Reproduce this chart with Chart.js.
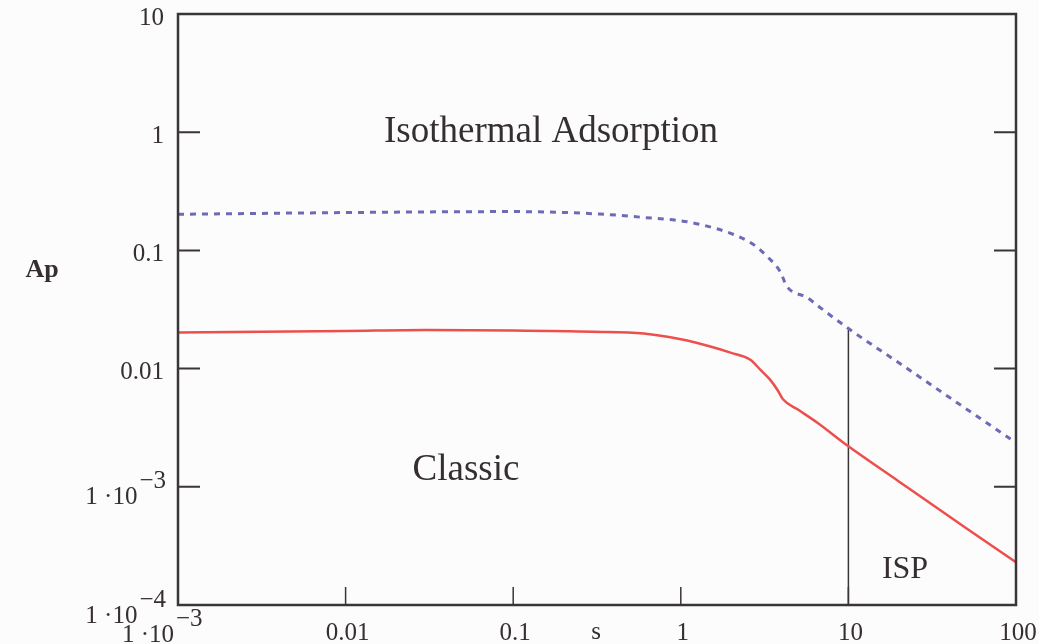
<!DOCTYPE html>
<html>
<head>
<meta charset="utf-8">
<script src="https://cdn.jsdelivr.net/npm/chart.js@4.4.1/dist/chart.umd.min.js"></script>
<style>
    html, body { margin: 0; padding: 0; background: #fcfcfc; }
    #wrap { width: 1039px; height: 644px; position: relative; }
</style>
</head>
<body>
<div id="wrap"><canvas id="chart"></canvas></div>
<script>
// Isothermal adsorption curve (dotted)
const sIsothermal = [0.001, 0.01, 0.1, 0.33, 0.6, 1, 1.3, 2.05, 2.7, 3.27, 3.91, 4.3, 5.66, 6.77, 10.2, 20, 50, 100];
const apIsothermal = [0.202, 0.209, 0.213, 0.203, 0.19, 0.178, 0.166, 0.137, 0.1125, 0.089, 0.0664, 0.0495, 0.040, 0.0329, 0.0214, 0.0112, 0.0046, 0.00236];

// Classic curve (solid)
const sClassic = [0.001, 0.01, 0.03, 0.1, 0.3, 0.6, 1, 1.5, 2, 2.6, 3, 3.4, 3.8, 4.07, 5, 6.5, 10, 20, 50, 100];
const apClassic = [0.0202, 0.0208, 0.0212, 0.021, 0.0205, 0.0198, 0.0177, 0.0154, 0.0136, 0.0119, 0.0097, 0.0081, 0.0065, 0.0055, 0.0045, 0.0035, 0.0022, 0.00111, 0.00045, 0.00023];

// vertical ISP marker
const ispS = [10, 10];
const ispAp = [0.0214, 0.0001];

const xTickValues = [0.001, 0.01, 0.1, 1, 10, 100];
const xTickLabels = ['1 ·10^−3', '0.01', '0.1', '1', '10', '100'];
const yTickValues = [10, 1, 0.1, 0.01, 0.001, 0.0001];
const yTickLabels = ['10', '1', '0.1', '0.01', '1 ·10^−3', '1 ·10^−4'];

const toPoints = (xs, ys) => xs.map((x, i) => ({ x: x, y: ys[i] }));

const serif = '"Liberation Serif", "DejaVu Serif", serif';

function drawLabel(ctx, text, x, y, align) {
    const parts = text.split('^');
    ctx.font = '25px ' + serif;
    const baseW = ctx.measureText(parts[0]).width;
    const expW = parts[1] ? ctx.measureText(parts[1]).width : 0;
    let left;
    if (align === 'right') left = x - baseW - expW;
    else if (align === 'baseRight') left = x - baseW;
    else left = x - (baseW + expW) / 2;
    ctx.textAlign = 'left';
    ctx.textBaseline = 'middle';
    if (parts[1]) {
        ctx.fillText(parts[0], left, y + 7);
        ctx.fillText(parts[1], left + baseW + 2, y - 9);
    } else {
        ctx.fillText(parts[0], left, y);
    }
}

const framePlugin = {
    id: 'frame',
    afterDatasetsDraw(chart) {
        const ctx = chart.ctx;
        const area = chart.chartArea;
        const xs = chart.scales.x;
        const ys = chart.scales.y;
        ctx.save();

        // frame
        ctx.strokeStyle = '#3a3538';
        ctx.lineWidth = 2.5;
        ctx.strokeRect(area.left, area.top, area.right - area.left, area.bottom - area.top);

        // inner ticks
        ctx.lineWidth = 2;
        yTickValues.forEach(v => {
            const py = ys.getPixelForValue(v);
            if (py <= area.top + 2 || py >= area.bottom - 2) return;
            ctx.beginPath();
            ctx.moveTo(area.left, py);
            ctx.lineTo(area.left + 22, py);
            ctx.moveTo(area.right, py);
            ctx.lineTo(area.right - 22, py);
            ctx.stroke();
        });
        ctx.lineWidth = 1.5;
        xTickValues.forEach(v => {
            const px = xs.getPixelForValue(v);
            if (px <= area.left + 2 || px >= area.right - 2) return;
            ctx.beginPath();
            ctx.moveTo(px, area.bottom);
            ctx.lineTo(px, area.bottom - 18);
            ctx.stroke();
        });

        // tick labels
        ctx.fillStyle = '#352f33';
        yTickValues.forEach((v, i) => {
            drawLabel(ctx, yTickLabels[i], 164, ys.getPixelForValue(v) + 4, 'right');
        });
        xTickValues.forEach((v, i) => {
            const px = xs.getPixelForValue(v);
            const lbl = xTickLabels[i];
            if (lbl.includes('^')) drawLabel(ctx, lbl, px - 4, area.bottom + 23, 'baseRight');
            else drawLabel(ctx, lbl, px + 2, area.bottom + 28, 'center');
        });

        // axis titles and annotations
        ctx.textAlign = 'center';
        ctx.textBaseline = 'middle';
        ctx.font = '600 26px ' + serif;
        ctx.fillText('Ap', 42, 270);
        ctx.font = '25px ' + serif;
        ctx.fillText('s', 596, 632);
        ctx.font = '37px ' + serif;
        ctx.fillText('Isothermal Adsorption', 551, 132);
        ctx.fillText('Classic', 466, 470);
        ctx.font = '32px ' + serif;
        ctx.fillText('ISP', 905, 570);
        ctx.restore();
    }
};

new Chart(document.getElementById('chart'), {
    type: 'line',
    data: {
        datasets: [
            {
                label: 'Isothermal Adsorption',
                data: toPoints(sIsothermal, apIsothermal),
                borderColor: '#6d6bb5',
                borderWidth: 3,
                borderDash: [6, 6],
                pointRadius: 0,
                cubicInterpolationMode: 'monotone',
                fill: false
            },
            {
                label: 'Classic',
                data: toPoints(sClassic, apClassic),
                borderColor: '#ec4f4c',
                borderWidth: 2.5,
                pointRadius: 0,
                cubicInterpolationMode: 'monotone',
                fill: false
            },
            {
                label: 'ISP',
                data: toPoints(ispS, ispAp),
                borderColor: '#3a3538',
                borderWidth: 1.5,
                pointRadius: 0,
                fill: false
            }
        ]
    },
    options: {
        responsive: true,
        maintainAspectRatio: false,
        animation: false,
        layout: {
            padding: { left: 178, right: 23, top: 14, bottom: 39 }
        },
        plugins: {
            legend: { display: false },
            tooltip: { enabled: false }
        },
        scales: {
            x: {
                type: 'logarithmic',
                min: 0.001,
                max: 100,
                display: false
            },
            y: {
                type: 'logarithmic',
                min: 0.0001,
                max: 10,
                display: false
            }
        }
    },
    plugins: [framePlugin]
});
</script>
</body>
</html>
